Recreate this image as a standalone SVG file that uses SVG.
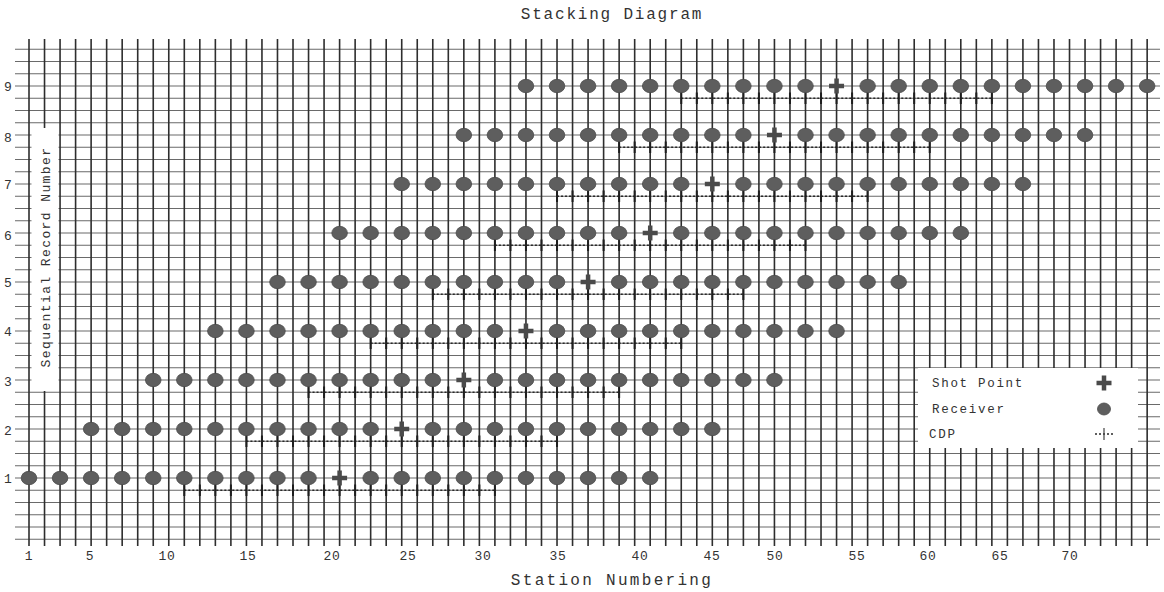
<svg xmlns="http://www.w3.org/2000/svg" xmlns:xlink="http://www.w3.org/1999/xlink" width="1164" height="592" viewBox="0 0 1164 592">
<style>
.hl{stroke:#6a6a6a;stroke-width:1.2;fill:none}
.vl{stroke:#2e2e2e;stroke-width:1.6;fill:none}
.rcv{fill:#5e5e5e;stroke:#4a4a4a;stroke-width:0.8}
.shot{stroke:#4a4a4a;stroke-width:4.5;fill:none}
.cdpline{stroke:#2a2a2a;stroke-width:1.4;stroke-dasharray:2 2;fill:none}
.cdptick{stroke:#1e1e1e;stroke-width:2;fill:none}
.t{font-family:"Liberation Mono","DejaVu Sans Mono",monospace;fill:#333}
.title{font-size:16px;letter-spacing:1.8px}
.ax{font-size:13px;letter-spacing:0.6px;text-anchor:middle}
.rl{font-size:13px;text-anchor:middle}
.lg{font-size:12.5px;letter-spacing:1.7px}
</style>
<defs>
<ellipse id="rcv" class="rcv" cx="0" cy="0" rx="7.8" ry="6.7"/>
<path id="shot" class="shot" d="M-7.5 0H7.5M0 -7.5V7.5"/>
<g id="rowTemplate">
<path class="cdpline" d="M155.3 12.25H465.9"/>
<path class="cdptick" d="M155.3 6.5v11.5M170.83 6.5v11.5M186.36 6.5v11.5M201.89 6.5v11.5M217.42 6.5v11.5M232.95 6.5v11.5M248.48 6.5v11.5M264.01 6.5v11.5M279.54 6.5v11.5M295.07 6.5v11.5M310.6 6.5v11.5M326.13 6.5v11.5M341.66 6.5v11.5M357.19 6.5v11.5M372.72 6.5v11.5M388.25 6.5v11.5M403.78 6.5v11.5M419.31 6.5v11.5M434.84 6.5v11.5M450.37 6.5v11.5M465.9 6.5v11.5"/>
<use href="#rcv" x="0"/>
<use href="#rcv" x="31.06"/>
<use href="#rcv" x="62.12"/>
<use href="#rcv" x="93.18"/>
<use href="#rcv" x="124.24"/>
<use href="#rcv" x="155.3"/>
<use href="#rcv" x="186.36"/>
<use href="#rcv" x="217.42"/>
<use href="#rcv" x="248.48"/>
<use href="#rcv" x="279.54"/>
<use href="#shot" x="310.6"/>
<use href="#rcv" x="341.66"/>
<use href="#rcv" x="372.72"/>
<use href="#rcv" x="403.78"/>
<use href="#rcv" x="434.84"/>
<use href="#rcv" x="465.9"/>
<use href="#rcv" x="496.96"/>
<use href="#rcv" x="528.02"/>
<use href="#rcv" x="559.08"/>
<use href="#rcv" x="590.14"/>
<use href="#rcv" x="621.2"/>
</g>
</defs>
<rect width="1164" height="592" fill="#ffffff"/>
<text class="t title" x="612" y="19" text-anchor="middle">Stacking Diagram</text>
<g id="grid">
<path class="hl" d="M15 49.25H1160M15 61.5H1160M15 73.75H1160M15 86H1160M15 98.25H1160M15 110.5H1160M15 122.75H1160M15 135H1160M15 147.25H1160M15 159.5H1160M15 171.75H1160M15 184H1160M15 196.25H1160M15 208.5H1160M15 220.75H1160M15 233H1160M15 245.25H1160M15 257.5H1160M15 269.75H1160M15 282H1160M15 294.25H1160M15 306.5H1160M15 318.75H1160M15 331H1160M15 343.25H1160M15 355.5H1160M15 367.75H1160M15 380H1160M15 392.25H1160M15 404.5H1160M15 416.75H1160M15 429H1160M15 441.25H1160M15 453.5H1160M15 465.75H1160M15 478H1160M15 490.25H1160M15 502.5H1160M15 514.75H1160M15 527H1160M15 539.25H1160"/>
<path class="vl" d="M29 39V546M44.53 39V546M60.06 39V546M75.59 39V546M91.12 39V546M106.65 39V546M122.18 39V546M137.71 39V546M153.24 39V546M168.77 39V546M184.3 39V546M199.83 39V546M215.36 39V546M230.89 39V546M246.42 39V546M261.95 39V546M277.48 39V546M293.01 39V546M308.54 39V546M324.07 39V546M339.6 39V546M355.13 39V546M370.66 39V546M386.19 39V546M401.72 39V546M417.25 39V546M432.78 39V546M448.31 39V546M463.84 39V546M479.37 39V546M494.9 39V546M510.43 39V546M525.96 39V546M541.49 39V546M557.02 39V546M572.55 39V546M588.08 39V546M603.61 39V546M619.14 39V546M634.67 39V546M650.2 39V546M665.73 39V546M681.26 39V546M696.79 39V546M712.32 39V546M727.85 39V546M743.38 39V546M758.91 39V546M774.44 39V546M789.97 39V546M805.5 39V546M821.03 39V546M836.56 39V546M852.09 39V546M867.62 39V546M883.15 39V546M898.68 39V546M914.21 39V546M929.74 39V546M945.27 39V546M960.8 39V546M976.33 39V546M991.86 39V546M1007.39 39V546M1022.92 39V546M1038.45 39V546M1053.98 39V546M1069.51 39V546M1085.04 39V546M1100.57 39V546M1116.1 39V546M1131.63 39V546M1147.16 39V546"/>
</g>
<g id="y-axis">
<rect x="31.5" y="128" width="27" height="263" fill="#ffffff"/>
<text class="t" x="0" y="0" font-size="13" letter-spacing="1.4" text-anchor="middle" transform="translate(49.5 257) rotate(-90)">Sequential Record Number</text>
<text class="t rl" x="8" y="90.5">9</text>
<text class="t rl" x="8" y="141.5">8</text>
<text class="t rl" x="8" y="188.5">7</text>
<text class="t rl" x="8" y="239.5">6</text>
<text class="t rl" x="8" y="286.5">5</text>
<text class="t rl" x="8" y="335.5">4</text>
<text class="t rl" x="8" y="385.5">3</text>
<text class="t rl" x="8" y="434.5">2</text>
<text class="t rl" x="8" y="482.5">1</text>
</g>
<g id="x-axis">
<text class="t ax" x="29" y="560">1</text>
<text class="t ax" x="90" y="560">5</text>
<text class="t ax" x="167" y="560">10</text>
<text class="t ax" x="248" y="560">15</text>
<text class="t ax" x="332" y="560">20</text>
<text class="t ax" x="408" y="560">25</text>
<text class="t ax" x="483" y="560">30</text>
<text class="t ax" x="558" y="560">35</text>
<text class="t ax" x="640" y="560">40</text>
<text class="t ax" x="712" y="560">45</text>
<text class="t ax" x="775" y="560">50</text>
<text class="t ax" x="857" y="560">55</text>
<text class="t ax" x="928" y="560">60</text>
<text class="t ax" x="1000" y="560">65</text>
<text class="t ax" x="1070" y="560">70</text>
<text class="t" x="612" y="585" font-size="16" letter-spacing="2.3" text-anchor="middle">Station Numbering</text>
</g>
<g id="record-1"><use href="#rowTemplate" transform="translate(29 478)"/></g>
<g id="record-2"><use href="#rowTemplate" transform="translate(91.12 429)"/></g>
<g id="record-3"><use href="#rowTemplate" transform="translate(153.24 380)"/></g>
<g id="record-4"><use href="#rowTemplate" transform="translate(215.36 331)"/></g>
<g id="record-5"><use href="#rowTemplate" transform="translate(277.48 282)"/></g>
<g id="record-6"><use href="#rowTemplate" transform="translate(339.6 233)"/></g>
<g id="record-7"><use href="#rowTemplate" transform="translate(401.72 184)"/></g>
<g id="record-8"><use href="#rowTemplate" transform="translate(463.84 135)"/></g>
<g id="record-9"><use href="#rowTemplate" transform="translate(525.96 86)"/></g>
<g id="legend">
<rect x="918" y="368" width="220" height="80" fill="#ffffff"/>
<text class="t lg" x="932" y="387">Shot Point</text>
<text class="t lg" x="932" y="413">Receiver</text>
<text class="t lg" x="929" y="438">CDP</text>
<use href="#shot" x="1104" y="383"/>
<ellipse class="rcv" cx="1104" cy="409" rx="6.5" ry="6"/>
<path class="cdpline" d="M1095 434H1113" stroke-width="1"/>
<path d="M1104 428V440" stroke="#444" stroke-width="1.2"/>
</g>
</svg>
